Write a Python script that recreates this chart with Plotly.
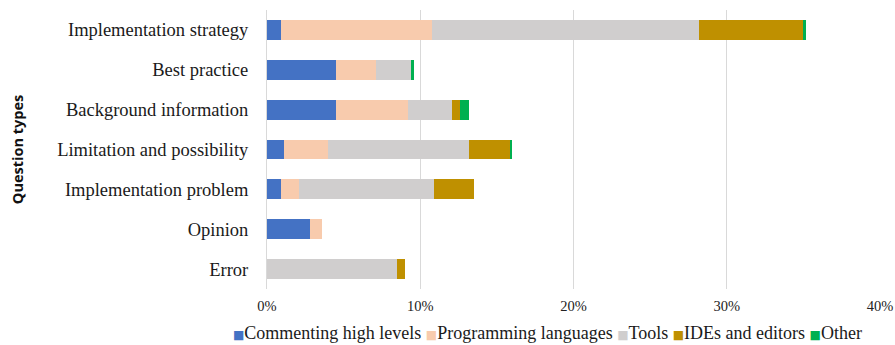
import plotly.graph_objects as go

categories = ["Implementation strategy", "Best practice", "Background information",
              "Limitation and possibility", "Implementation problem", "Opinion", "Error"]
series_names = ["Commenting high levels", "Programming languages", "Tools", "IDEs and editors", "Other"]
commenting = [0.91, 4.50, 4.50, 1.11, 0.91, 2.80, 0.00]
programming = [9.83, 2.63, 4.72, 2.85, 1.16, 0.77, 0.00]
tools = [17.46, 2.26, 2.82, 9.22, 8.83, 0.00, 8.46]
ides = [6.80, 0.00, 0.55, 2.65, 2.62, 0.00, 0.56]
other = [0.20, 0.20, 0.59, 0.17, 0.00, 0.00, 0.00]
tick_vals = [0, 10, 20, 30, 40]
tick_text = ["0%", "10%", "20%", "30%", "40%"]

colors = ["#4472C4", "#F8CBAD", "#D0CECE", "#BF9000", "#00B050"]
series = [commenting, programming, tools, ides, other]

fig = go.Figure()
for name, vals, col in zip(series_names, series, colors):
    fig.add_trace(go.Bar(
        y=categories, x=vals, name=name, orientation="h",
        marker=dict(color=col, line=dict(width=0)),
        showlegend=False,
    ))

# compact Excel-style legend as a single line of text
legend_text = " ".join(
    f"<span style='color:{c}; font-family:DejaVu Sans; font-size:12px'>■</span>{n}"
    for n, c in zip(series_names, colors)
)
fig.add_annotation(text=legend_text, xref="paper", yref="paper", x=0.4576, y=-0.158,
                   xanchor="center", yanchor="middle", showarrow=False,
                   font=dict(size=18, family="Liberation Serif", color="#1a1a1a"))

fig.update_layout(
    barmode="stack",
    bargap=0.5,
    width=895, height=345,
    margin=dict(l=267, r=15, t=10, b=56, autoexpand=False),
    plot_bgcolor="white", paper_bgcolor="white",
    font=dict(family="Liberation Serif", color="#1a1a1a"),
    showlegend=False,
)
fig.update_xaxes(range=[0, 40], tickvals=tick_vals, ticktext=tick_text,
                 showgrid=True, gridcolor="#D9D9D9", gridwidth=1,
                 zeroline=False, showline=False, automargin=False,
                 ticklabelstandoff=6,
                 tickfont=dict(size=14.5, family="Liberation Serif", color="#222222"))
fig.update_yaxes(autorange="reversed", showgrid=False, zeroline=False,
                 showline=True, linecolor="#D9D9D9", linewidth=1, automargin=False,
                 ticks="", ticklabelstandoff=14,
                 tickfont=dict(size=18.5, family="Liberation Serif", color="#1a1a1a"),
                 title=dict(text="<b>Question types</b>", standoff=30,
                            font=dict(size=14.5, family="Open Sans", color="#111111")))

fig.write_html("out.html", config={"displayModeBar": False},
               post_script="document.body.style.margin='0';document.body.style.overflow='hidden';")
